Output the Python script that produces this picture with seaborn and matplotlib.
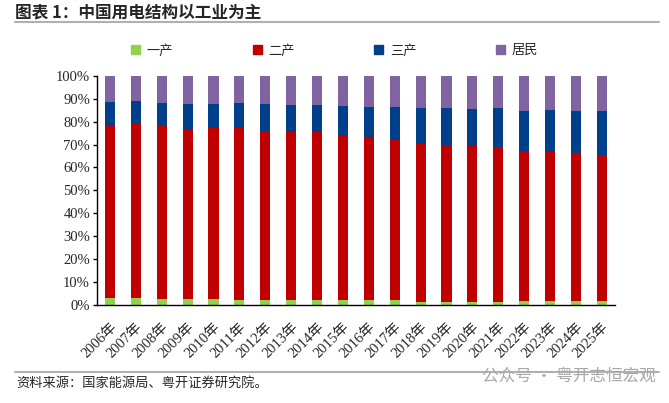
import matplotlib
matplotlib.use('Agg')
import matplotlib.pyplot as plt
import matplotlib.patches as mpatches
import matplotlib.lines as mlines
import seaborn as sns
import numpy as np
import pandas as pd

# Data (shares of electricity use, %)
years = [f'{y}年' for y in range(2006, 2026)]
primary = [3.0, 2.9, 2.6, 2.6, 2.5, 2.3, 2.2, 2.0, 2.0, 2.0,
           2.2, 2.2, 1.3, 1.3, 1.5, 1.5, 1.6, 1.7, 1.7, 1.7]
secondary = [75.5, 76.3, 75.5, 74.1, 74.7, 74.9, 73.8, 73.6, 73.3, 72.0,
             70.8, 70.0, 68.8, 68.2, 67.7, 67.3, 65.8, 65.5, 64.4, 63.6]
tertiary = [9.9, 9.8, 10.1, 10.8, 10.6, 11.0, 11.5, 11.6, 12.1, 12.9,
            13.3, 14.1, 15.7, 16.3, 16.3, 17.1, 17.2, 18.0, 18.6, 19.4]
resident = [11.6, 11.0, 11.8, 12.5, 12.2, 11.8, 12.5, 12.8, 12.6, 13.1,
            13.7, 13.7, 14.2, 14.2, 14.5, 14.1, 15.4, 14.8, 15.3, 15.3]
series_names = ['一产', '二产', '三产', '居民']
colors = ['#92D050', '#C00000', '#003F8A', '#8064A2']

df = pd.DataFrame({'year': years, '一产': primary, '二产': secondary,
                   '三产': tertiary, '居民': resident})

sns.set_style('white')
plt.rcParams['font.family'] = ['Liberation Serif', 'Noto Sans CJK SC', 'DejaVu Sans']

fig = plt.figure(figsize=(6.69, 4.03), dpi=100)
ax = fig.add_axes([0.145, 0.243, 0.774, 0.569])

# stacked bars: draw cumulative totals from top down
cum = df[series_names].cumsum(axis=1)
for name, color in reversed(list(zip(series_names, colors))):
  sns.barplot(x=df['year'], y=cum[name], color=color, width=0.39,
              saturation=1, ax=ax, linewidth=0)

ax.set_ylim(0, 100)
ax.set_xlim(-0.5, len(years) - 0.5)
ax.set_yticks(np.arange(0, 101, 10))
ax.set_yticklabels([f'{v}%' for v in range(0, 101, 10)], fontsize=10.5)
ax.set_xlabel('')
ax.set_ylabel('')
ax.set_xticks(range(len(years)))
ax.set_xticklabels(years, rotation=45, ha='right', rotation_mode='anchor',
                   fontsize=10.5)
ax.set_xticks(np.arange(-0.5, len(years), 1), minor=True)
ax.tick_params(axis='x', which='major', length=0, pad=11)
ax.tick_params(axis='x', which='minor', length=4, width=1, color='black',
               direction='out')
ax.tick_params(axis='y', length=3, width=1, color='black', left=True,
               direction='out', pad=2)
for s in ['top', 'right']:
  ax.spines[s].set_visible(False)
for s in ['left', 'bottom']:
  ax.spines[s].set_color('black')
  ax.spines[s].set_linewidth(1)

# legend
handles = [mpatches.Patch(color=c, label=n) for n, c in zip(series_names, colors)]
fig.legend(handles=handles, loc='center', bbox_to_anchor=(0.5, 0.874), ncol=4,
           frameon=False, handlelength=0.7, handleheight=0.7, handletextpad=0.5,
           columnspacing=6.0, prop={'family': 'Noto Sans CJK SC', 'size': 9.5})

# title and decorations
fig.text(0.022, 0.97, '图表 1：中国用电结构以工业为主', fontsize=12, fontweight='bold',
         va='center', ha='left', family=['Noto Sans CJK SC', 'DejaVu Sans'])
fig.add_artist(mlines.Line2D([0.022, 0.985], [0.945, 0.945], color='#b0b0b0',
                             lw=1.5, transform=fig.transFigure))
fig.add_artist(mlines.Line2D([0.022, 0.985], [0.077, 0.077], color='#b0b0b0',
                             lw=1.5, transform=fig.transFigure))
fig.text(0.025, 0.048, '资料来源：国家能源局、粤开证券研究院。', fontsize=9.5,
         style='italic', va='center', ha='left',
         family=['Noto Sans CJK SC', 'DejaVu Sans'])
fig.text(0.98, 0.066, '公众号 · 粤开志恒宏观', fontsize=12, color='#a8a8a8',
         va='center', ha='right', family=['Noto Sans CJK SC', 'DejaVu Sans'])

fig.savefig('out.png', dpi=100)
